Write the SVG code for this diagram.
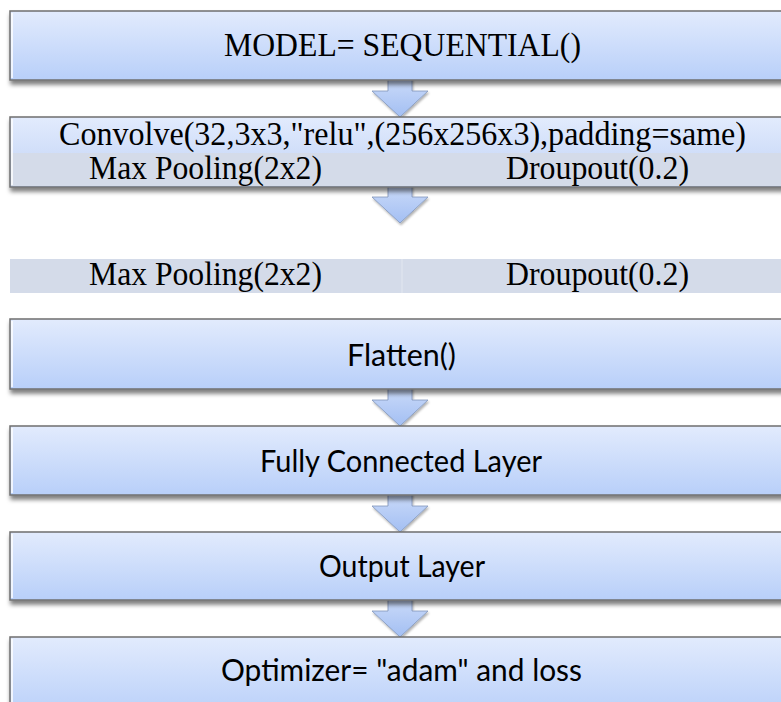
<svg xmlns="http://www.w3.org/2000/svg" width="781" height="702" viewBox="0 0 781 702">
  <defs>
    <linearGradient id="boxFill" x1="0" y1="0" x2="0" y2="1">
      <stop offset="0" stop-color="#e2ebfd"/>
      <stop offset="1" stop-color="#b8cff9"/>
    </linearGradient>
    <linearGradient id="rowFill" x1="0" y1="0" x2="0" y2="1">
      <stop offset="0" stop-color="#e2ebfd"/>
      <stop offset="1" stop-color="#d0def9"/>
    </linearGradient>
    <linearGradient id="arrowFill" x1="0" y1="0" x2="0" y2="1">
      <stop offset="0" stop-color="#cddcf9"/>
      <stop offset="1" stop-color="#a3bff3"/>
    </linearGradient>
    <filter id="shadow" x="-5%" y="-20%" width="110%" height="160%">
      <feDropShadow dx="1" dy="4" stdDeviation="2" flood-color="#000" flood-opacity="0.5"/>
    </filter>
    <filter id="arrowShadow" x="-30%" y="-20%" width="160%" height="160%">
      <feDropShadow dx="1" dy="2" stdDeviation="1.2" flood-color="#000" flood-opacity="0.3"/>
    </filter>
  </defs>
  <style>
    .box { fill: url(#boxFill); stroke: #6f6f6f; stroke-width: 1.5; filter: url(#shadow); }
    .hl { stroke: #ffffff; stroke-width: 1.5; }
    .band { fill: #d4dbe9; }
    .divider { stroke: #e2e7f0; stroke-width: 1; }
    .arrow { fill: url(#arrowFill); stroke: #8196ba; stroke-width: 0.8; filter: url(#arrowShadow); }
    .serif { font-family: "Liberation Serif", "Times New Roman", serif; fill: #000; }
    .sans { font-family: Lato, "Open Sans", sans-serif; fill: #000; font-size: 31px; }
  </style>

  <rect width="781" height="702" fill="#ffffff"/>

  <!-- block arrows between the stages -->
  <g id="connectors">
    <path class="arrow" d="M388,76 L412,76 L412,91 L428,91 L400,117 L372,91 L388,91 Z"/>
    <path class="arrow" d="M388,183 L412,183 L412,197 L428,197 L400,223 L372,197 L388,197 Z"/>
    <path class="arrow" d="M388,385 L412,385 L412,400 L428,400 L400,426 L372,400 L388,400 Z"/>
    <path class="arrow" d="M388,491 L412,491 L412,506 L428,506 L400,532 L372,506 L388,506 Z"/>
    <path class="arrow" d="M388,596 L412,596 L412,611 L428,611 L400,637 L372,611 L388,611 Z"/>
  </g>

  <g id="model">
    <rect class="box" x="10" y="11" width="800" height="69"/>
    <line class="hl" x1="12" y1="13" x2="12" y2="78"/>
    <text class="serif" x="224" y="56" font-size="34" textLength="357" lengthAdjust="spacingAndGlyphs">MODEL= SEQUENTIAL()</text>
  </g>

  <g id="conv-block">
    <rect class="box" x="10" y="117" width="800" height="70"/>
    <rect x="11" y="118" width="790" height="35" fill="url(#rowFill)"/>
    <rect class="band" x="11" y="153" width="790" height="33"/>
    <line class="hl" x1="12" y1="119" x2="12" y2="185"/>
    <text class="serif" x="59" y="145" font-size="33" textLength="687" lengthAdjust="spacingAndGlyphs">Convolve(32,3x3,"relu",(256x256x3),padding=same)</text>
    <text class="serif" x="89" y="179" font-size="33" textLength="233" lengthAdjust="spacingAndGlyphs">Max Pooling(2x2)</text>
    <text class="serif" x="506" y="179" font-size="33" textLength="183" lengthAdjust="spacingAndGlyphs">Droupout(0.2)</text>
  </g>

  <g id="pool-block">
    <rect class="band" x="10" y="259" width="800" height="34"/>
    <line class="divider" x1="402" y1="259" x2="402" y2="293"/>
    <text class="serif" x="89" y="285" font-size="33" textLength="233" lengthAdjust="spacingAndGlyphs">Max Pooling(2x2)</text>
    <text class="serif" x="506" y="285" font-size="33" textLength="183" lengthAdjust="spacingAndGlyphs">Droupout(0.2)</text>
  </g>

  <g id="flatten">
    <rect class="box" x="10" y="319" width="800" height="70"/>
    <line class="hl" x1="12" y1="321" x2="12" y2="387"/>
    <text class="sans" x="347" y="366" textLength="109" lengthAdjust="spacingAndGlyphs">Flatten()</text>
  </g>

  <g id="dense">
    <rect class="box" x="10" y="426" width="800" height="69"/>
    <line class="hl" x1="12" y1="428" x2="12" y2="493"/>
    <text class="sans" x="260" y="472" textLength="282" lengthAdjust="spacingAndGlyphs">Fully Connected Layer</text>
  </g>

  <g id="output">
    <rect class="box" x="10" y="532" width="800" height="68"/>
    <line class="hl" x1="12" y1="534" x2="12" y2="598"/>
    <text class="sans" x="319" y="577" textLength="166" lengthAdjust="spacingAndGlyphs">Output Layer</text>
  </g>

  <g id="compile">
    <rect class="box" x="10" y="637" width="800" height="80"/>
    <line class="hl" x1="12" y1="639" x2="12" y2="702"/>
    <text class="sans" x="221" y="681" textLength="361" lengthAdjust="spacingAndGlyphs">Optimizer= "adam" and loss</text>
  </g>
</svg>
